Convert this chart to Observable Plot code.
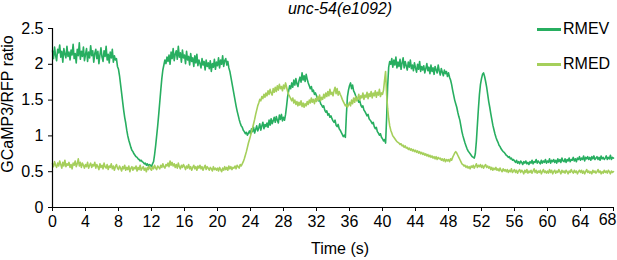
<!DOCTYPE html>
<html><head><meta charset="utf-8">
<script src="https://cdn.jsdelivr.net/npm/d3@7"></script>
<script src="https://cdn.jsdelivr.net/npm/@observablehq/plot@0.6"></script>
<style>
body{margin:0;background:#fff;}
#wrap{position:relative;width:617px;height:260px;font-family:"Liberation Sans",Arial,Helvetica,sans-serif;color:#000;overflow:hidden;}
#wrap svg{position:absolute;left:0;top:0;}
.lbl{position:absolute;font-size:16px;line-height:18px;white-space:nowrap;}
#title{left:0;width:680px;text-align:center;top:0;font-style:italic;}
#xlab{left:0;width:680px;text-align:center;top:240px;}
#ylab{left:-62px;top:95px;width:140px;text-align:center;transform:rotate(-90deg);}
.leg{position:absolute;left:537px;font-size:16px;line-height:18px;white-space:nowrap;}
.leg span.sw{position:absolute;left:0;width:24px;height:2.5px;}
.leg span.tx{position:absolute;left:26px;top:-9px;}
</style></head><body>
<div id="wrap">
  <div class="lbl" id="title">unc-54(e1092)</div>
  <div class="lbl" id="xlab">Time (s)</div>
  <div class="lbl" id="ylab">GCaMP3/RFP ratio</div>
</div>
<script>
// sampling interval of the traces (s): 8 samples per second
const dt = 0.125;
const xTicks = [0,4,8,12,16,20,24,28,32,36,40,44,48,52,56,60,64,68];
const yTicks = [0,0.5,1,1.5,2,2.5];
const seriesNames = ["RMEV","RMED"];
const seriesColors = ["#27ae60","#a5cf5b"];

// RMEV trace, one row per second
const rmev = [
2.19,2.08,2.24,2.12,2.05,2.21,2.16,2.27,
2.10,2.18,2.03,2.22,2.14,2.09,2.25,2.11,
2.17,2.06,2.20,2.13,2.28,2.08,2.15,2.02,
2.21,2.12,2.30,2.07,2.18,2.11,2.24,2.05,
2.14,2.22,2.04,2.17,2.09,2.26,2.12,2.19,
2.03,2.15,2.21,2.08,2.18,2.01,2.13,2.23,
2.10,2.04,2.19,2.11,2.25,2.06,2.14,2.02,
2.17,2.09,2.21,2.03,2.12,2.06,2.08,1.97,
1.93,1.84,1.72,1.60,1.48,1.36,1.26,1.18,
1.08,1.00,0.94,0.89,0.84,0.80,0.78,0.75,
0.73,0.71,0.70,0.68,0.67,0.65,0.66,0.64,
0.63,0.61,0.62,0.59,0.61,0.58,0.60,0.59,
0.57,0.61,0.64,0.74,0.86,1.00,1.14,1.30,
1.47,1.64,1.80,1.92,1.99,2.06,2.01,2.10,
2.04,2.13,2.00,2.17,2.08,2.22,2.05,2.14,
2.19,2.07,2.25,2.10,2.16,2.03,2.20,2.09,
2.13,2.01,2.18,2.06,2.11,1.99,2.15,2.04,
2.09,1.97,2.12,2.02,2.14,1.98,2.06,2.01,
1.95,2.08,1.99,2.04,1.92,2.06,1.97,2.02,
1.94,2.05,1.90,2.01,1.96,2.07,1.93,2.03,
1.98,2.09,1.95,2.06,2.00,2.12,1.97,2.05,
2.08,1.99,2.04,1.95,1.90,1.82,1.74,1.66,
1.58,1.50,1.42,1.35,1.29,1.23,1.18,1.14,
1.12,1.08,1.06,1.03,1.05,1.01,1.04,1.07,
1.03,1.10,1.06,1.12,1.04,1.09,1.14,1.07,
1.11,1.17,1.08,1.14,1.19,1.10,1.16,1.13,
1.18,1.12,1.22,1.15,1.24,1.17,1.21,1.26,
1.19,1.27,1.22,1.18,1.29,1.23,1.30,1.21,
1.26,1.22,1.30,1.42,1.55,1.63,1.70,1.66,
1.74,1.68,1.78,1.71,1.80,1.73,1.69,1.77,
1.82,1.75,1.88,1.78,1.84,1.76,1.86,1.79,
1.74,1.70,1.66,1.69,1.62,1.64,1.58,1.60,
1.56,1.52,1.49,1.51,1.45,1.43,1.40,1.42,
1.36,1.33,1.35,1.29,1.31,1.26,1.28,1.24,
1.21,1.19,1.22,1.15,1.13,1.16,1.10,1.08,
1.05,1.02,0.99,1.01,0.98,1.30,1.55,1.64,
1.70,1.74,1.66,1.71,1.63,1.60,1.56,1.53,
1.51,1.47,1.49,1.43,1.40,1.42,1.36,1.34,
1.31,1.28,1.30,1.24,1.22,1.20,1.17,1.19,
1.13,1.10,1.12,1.06,1.04,1.01,1.03,0.98,
0.96,0.93,0.95,0.90,1.25,1.70,1.96,2.04,
2.00,2.08,1.96,2.06,1.99,2.10,1.95,2.03,
1.97,2.07,1.93,2.02,2.09,1.95,2.04,1.98,
1.92,2.03,1.96,2.06,1.94,1.99,1.91,2.02,
1.95,1.89,2.00,1.93,2.04,1.90,1.97,1.92,
1.98,1.88,1.94,2.01,1.91,1.96,1.87,1.99,
1.90,1.95,1.86,1.97,1.92,1.88,1.99,1.91,
1.85,1.94,1.89,1.84,1.92,1.87,1.90,1.83,
1.88,1.82,1.78,1.72,1.64,1.57,1.50,1.45,
1.40,1.33,1.27,1.22,1.14,1.06,1.00,0.95,
0.90,0.86,0.82,0.79,0.77,0.75,0.73,0.71,
0.70,0.69,0.75,0.92,1.15,1.38,1.58,1.72,
1.80,1.86,1.88,1.83,1.76,1.68,1.58,1.48,
1.40,1.31,1.23,1.15,1.09,1.03,0.98,0.94,
0.91,0.87,0.85,0.82,0.80,0.78,0.77,0.75,
0.73,0.72,0.70,0.71,0.68,0.69,0.66,0.67,
0.65,0.63,0.66,0.62,0.64,0.61,0.65,0.63,
0.60,0.64,0.62,0.65,0.61,0.63,0.60,0.64,
0.62,0.66,0.61,0.64,0.63,0.67,0.62,0.65,
0.63,0.61,0.66,0.62,0.65,0.63,0.67,0.62,
0.65,0.63,0.68,0.62,0.66,0.64,0.67,0.63,
0.66,0.62,0.68,0.64,0.67,0.63,0.69,0.65,
0.64,0.68,0.63,0.67,0.65,0.69,0.64,0.67,
0.66,0.70,0.65,0.68,0.64,0.69,0.67,0.71,
0.66,0.69,0.67,0.72,0.65,0.70,0.68,0.71,
0.67,0.70,0.66,0.71,0.68,0.72,0.67,0.69,
0.71,0.67,0.70,0.66,0.72,0.68,0.70,0.67,
0.69,0.72,0.67,0.70,0.68,0.73,0.67,0.70,
0.69
];

// RMED trace, same sampling
const rmed = [
0.61,0.57,0.64,0.59,0.56,0.62,0.58,0.65,
0.60,0.55,0.63,0.58,0.66,0.57,0.61,0.59,
0.63,0.56,0.60,0.54,0.62,0.59,0.65,0.57,
0.61,0.68,0.58,0.63,0.56,0.62,0.59,0.55,
0.60,0.57,0.63,0.55,0.59,0.62,0.56,0.60,
0.58,0.63,0.55,0.60,0.57,0.53,0.61,0.56,
0.59,0.54,0.62,0.57,0.55,0.60,0.53,0.58,
0.56,0.61,0.54,0.58,0.52,0.57,0.60,0.55,
0.53,0.58,0.55,0.51,0.57,0.54,0.59,0.52,
0.56,0.53,0.58,0.50,0.55,0.57,0.52,0.56,
0.54,0.58,0.51,0.56,0.53,0.59,0.52,0.55,
0.57,0.52,0.55,0.50,0.56,0.53,0.58,0.54,
0.52,0.57,0.54,0.59,0.55,0.53,0.58,0.56,
0.54,0.59,0.56,0.61,0.57,0.55,0.60,0.58,
0.62,0.57,0.65,0.59,0.63,0.58,0.61,0.56,
0.60,0.55,0.62,0.57,0.54,0.59,0.56,0.60,
0.57,0.53,0.58,0.55,0.60,0.54,0.57,0.52,
0.56,0.59,0.54,0.57,0.52,0.58,0.55,0.59,
0.54,0.57,0.52,0.56,0.59,0.53,0.57,0.55,
0.52,0.56,0.54,0.51,0.57,0.53,0.55,0.52,
0.55,0.51,0.56,0.53,0.50,0.55,0.52,0.57,
0.53,0.56,0.52,0.58,0.54,0.57,0.53,0.56,
0.55,0.58,0.54,0.59,0.57,0.55,0.60,0.58,
0.61,0.64,0.68,0.73,0.78,0.84,0.90,0.95,
1.00,1.06,1.11,1.17,1.23,1.30,1.36,1.42,
1.46,1.51,1.49,1.55,1.52,1.58,1.54,1.60,
1.56,1.63,1.58,1.65,1.60,1.57,1.66,1.61,
1.68,1.62,1.70,1.64,1.72,1.66,1.69,1.63,
1.71,1.66,1.74,1.68,1.62,1.58,1.55,1.52,
1.49,1.53,1.46,1.50,1.44,1.48,1.42,1.47,
1.43,1.49,1.41,1.46,1.40,1.45,1.42,1.48,
1.44,1.50,1.46,1.53,1.47,1.51,1.45,1.52,
1.48,1.55,1.50,1.57,1.49,1.54,1.51,1.58,
1.53,1.60,1.55,1.62,1.56,1.65,1.58,1.61,
1.56,1.63,1.68,1.59,1.66,1.57,1.62,1.58,
1.55,1.51,1.48,1.45,1.42,1.44,1.40,1.43,
1.47,1.42,1.50,1.45,1.53,1.47,1.55,1.49,
1.52,1.58,1.50,1.56,1.53,1.60,1.51,1.57,
1.54,1.61,1.52,1.59,1.55,1.62,1.53,1.60,
1.56,1.63,1.54,1.61,1.57,1.65,1.55,1.60,
1.58,1.64,1.78,1.90,1.58,1.38,1.24,1.14,
1.08,1.04,1.00,0.98,0.96,0.94,0.92,0.91,
0.90,0.88,0.89,0.86,0.87,0.84,0.86,0.83,
0.84,0.81,0.83,0.80,0.82,0.79,0.81,0.78,
0.80,0.77,0.79,0.76,0.78,0.75,0.77,0.74,
0.76,0.73,0.75,0.72,0.74,0.71,0.73,0.70,
0.72,0.69,0.71,0.68,0.71,0.67,0.70,0.68,
0.69,0.66,0.68,0.65,0.68,0.64,0.67,0.65,
0.67,0.64,0.68,0.66,0.70,0.73,0.76,0.78,
0.76,0.73,0.70,0.67,0.64,0.61,0.60,0.58,
0.59,0.56,0.58,0.55,0.57,0.54,0.58,0.56,
0.59,0.55,0.58,0.61,0.56,0.59,0.57,0.60,
0.56,0.59,0.55,0.58,0.60,0.56,0.58,0.55,
0.57,0.53,0.56,0.52,0.55,0.53,0.56,0.52,
0.54,0.51,0.55,0.52,0.50,0.54,0.51,0.53,
0.50,0.53,0.49,0.52,0.50,0.54,0.49,0.51,
0.53,0.49,0.52,0.48,0.51,0.53,0.49,0.52,
0.50,0.47,0.52,0.49,0.53,0.48,0.51,0.49,
0.52,0.48,0.51,0.54,0.49,0.52,0.48,0.51,
0.49,0.52,0.47,0.50,0.53,0.49,0.51,0.48,
0.51,0.48,0.53,0.49,0.52,0.47,0.50,0.52,
0.48,0.51,0.49,0.53,0.50,0.47,0.52,0.49,
0.51,0.48,0.52,0.50,0.47,0.51,0.49,0.53,
0.50,0.48,0.52,0.49,0.51,0.47,0.50,0.52,
0.49,0.52,0.48,0.51,0.47,0.50,0.53,0.49,
0.51,0.48,0.50,0.47,0.52,0.49,0.51,0.48,
0.50,0.53,0.49,0.51,0.47,0.50,0.48,0.52,
0.49,0.51,0.48,0.52,0.50,0.47,0.51,0.49,
0.50
];

const data = [];
rmev.forEach((v, i) => data.push({t: i * dt, v, s: seriesNames[0]}));
rmed.forEach((v, i) => data.push({t: i * dt, v, s: seriesNames[1]}));

const lastTick = xTicks[xTicks.length - 1];
const chart = Plot.plot({
  width: 617, height: 260,
  marginTop: 28, marginBottom: 53, marginLeft: 52, marginRight: 4,
  x: {domain: [0, 68]},
  y: {domain: [0, 2.5]},
  color: {domain: seriesNames, range: seriesColors},
  style: {fontFamily: '"Liberation Sans", Arial, sans-serif', fontSize: "16px", background: "transparent", color: "#000"},
  marks: [
    Plot.lineY(data, {x: "t", y: "v", stroke: "s", z: "s", strokeWidth: 1.6}),
    Plot.ruleX([0], {stroke: "#000", strokeWidth: 1.2}),
    Plot.ruleY([0], {stroke: "#000", strokeWidth: 1.2}),
    Plot.axisX({ticks: xTicks.filter(d => d !== lastTick), tickSize: 4, tickPadding: 4, label: null, fontSize: 16, tickFormat: d => String(d)}),
    Plot.axisX({ticks: [lastTick], tickSize: 4, tickPadding: 4, label: null, fontSize: 16, tickFormat: d => String(d), text: null}),
    Plot.text([lastTick], {x: d => d, frameAnchor: "bottom", dy: 17, textAnchor: "end", dx: 3, fontSize: 16, text: d => String(d)}),
    Plot.axisY({ticks: yTicks, tickSize: 4, tickPadding: 5, label: null, fontSize: 16, tickFormat: d => String(d)})
  ]
});
const wrap = document.getElementById("wrap");
wrap.insertBefore(chart, wrap.firstChild);

// legend
const legTops = [29, 64];
seriesNames.forEach((name, i) => {
  const d = document.createElement("div");
  d.className = "leg";
  d.style.top = legTops[i] + "px";
  d.innerHTML = `<span class="sw" style="background:${seriesColors[i]};top:-1px"></span><span class="tx">${name}</span>`;
  wrap.appendChild(d);
});
</script>
</body></html>
